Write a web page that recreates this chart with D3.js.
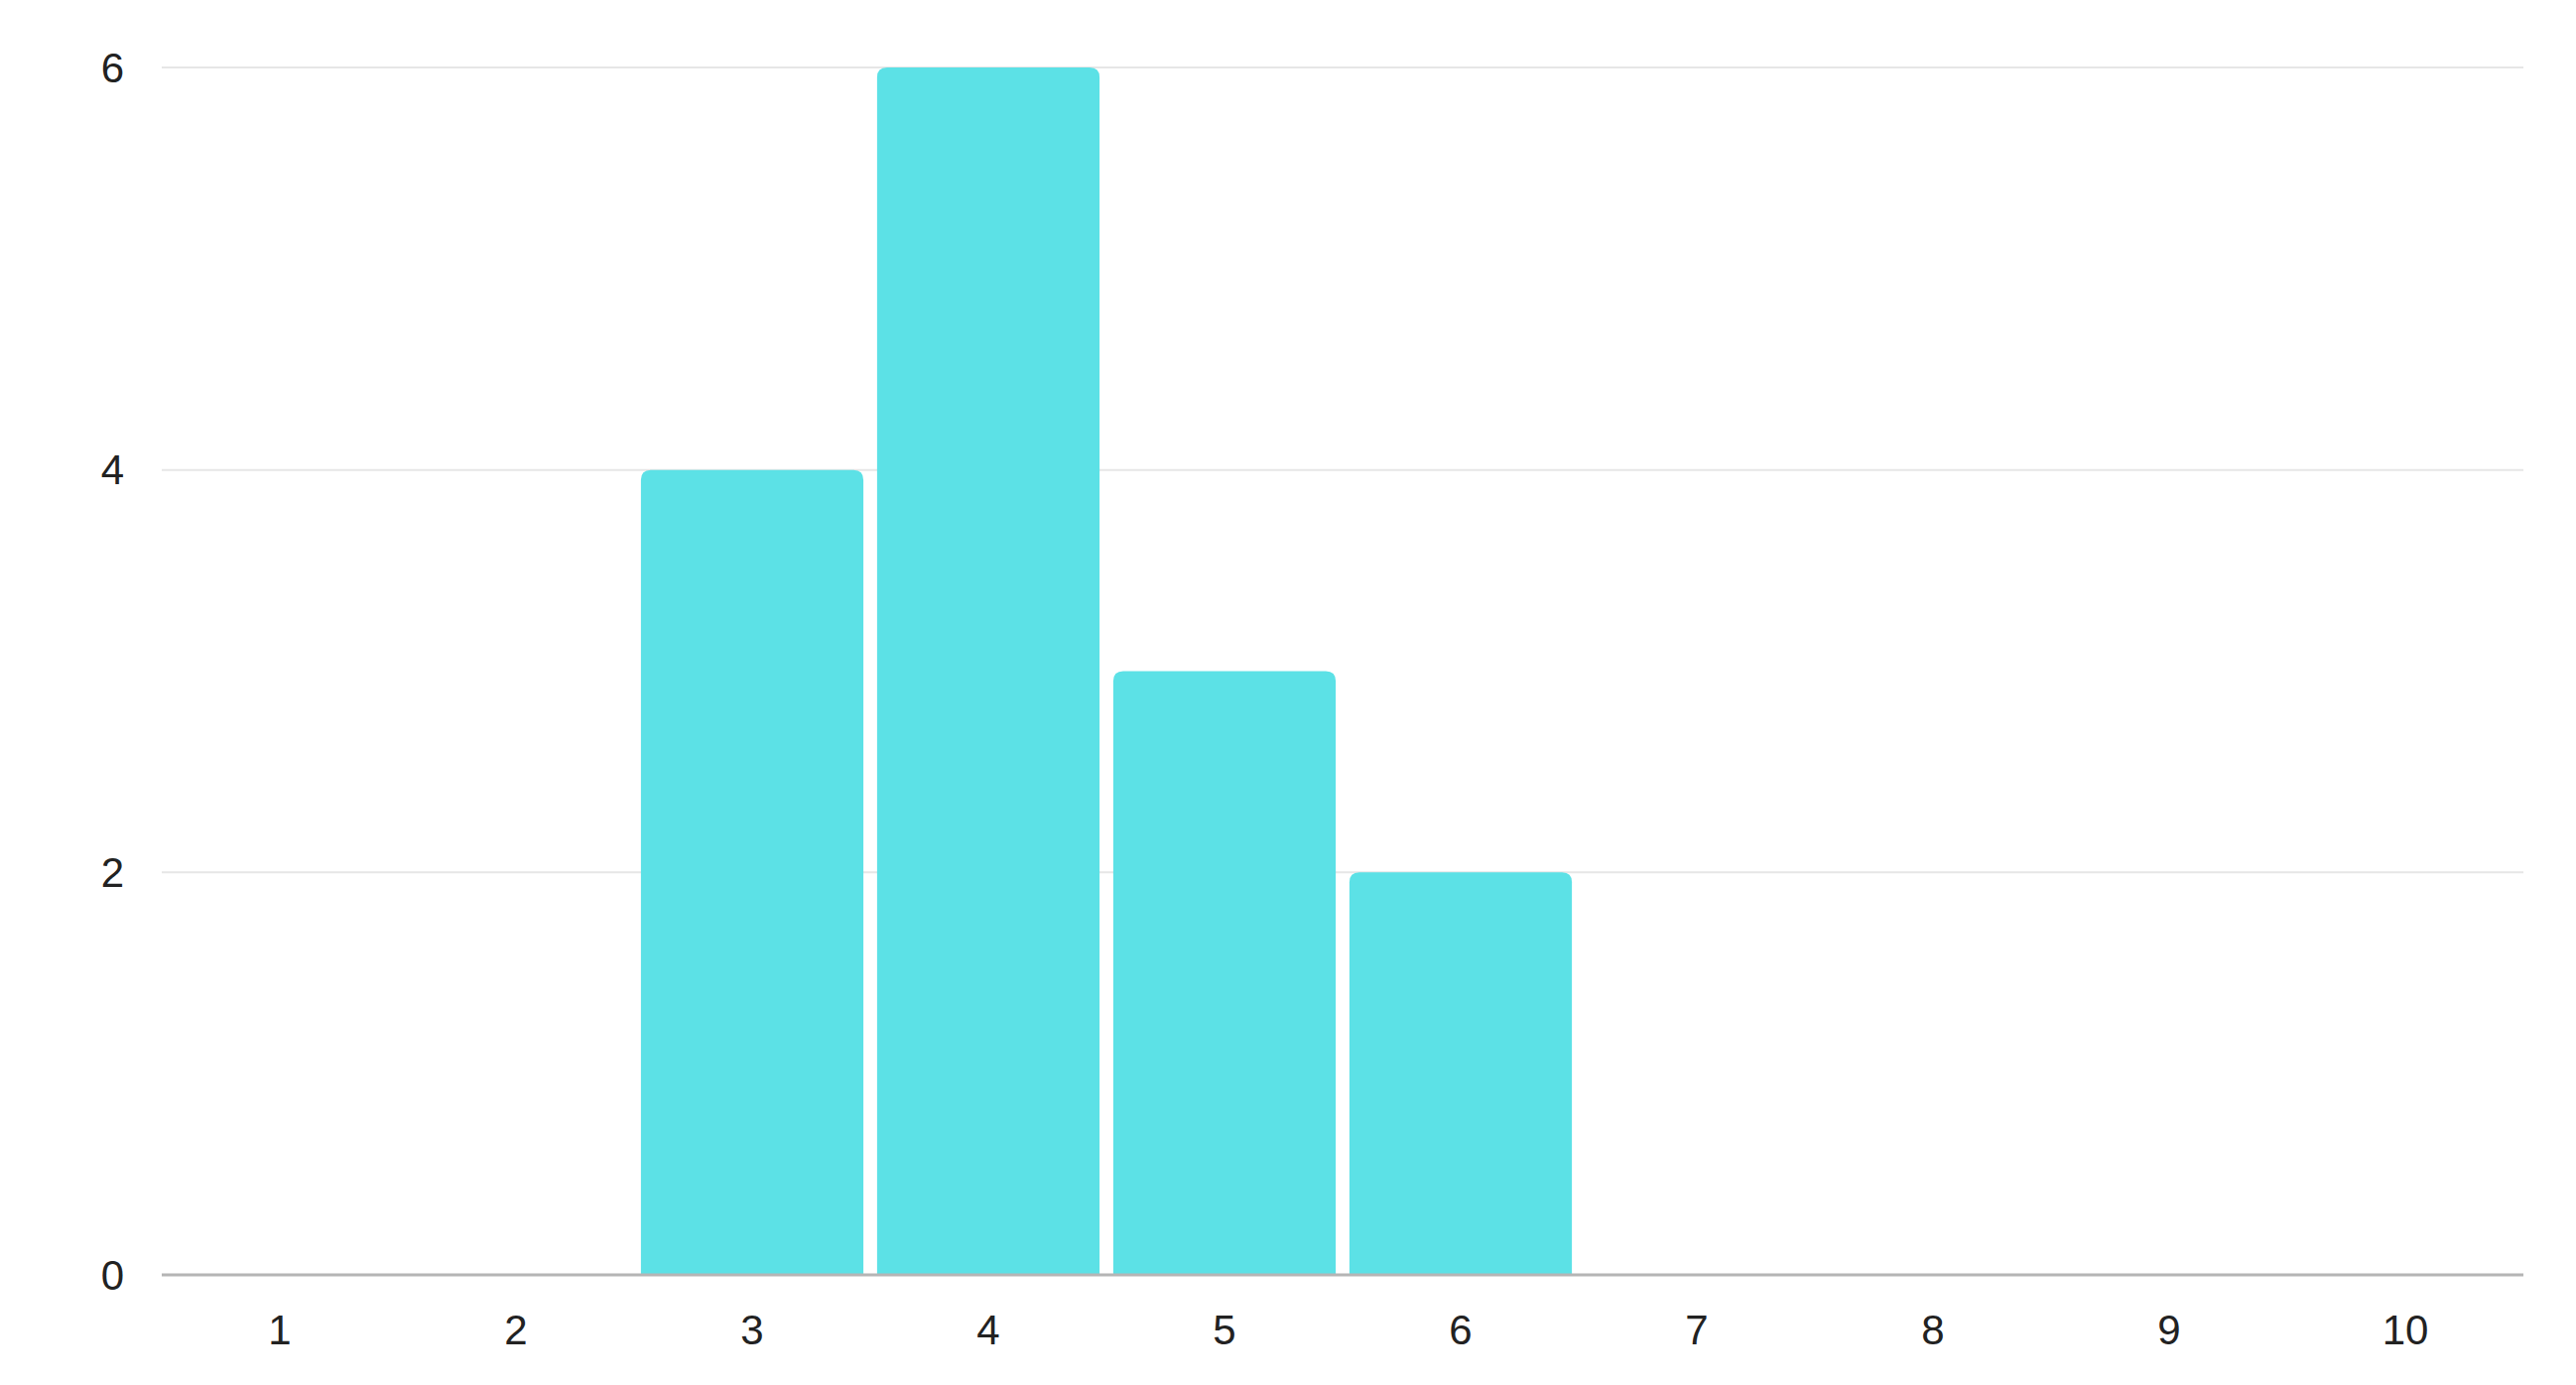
<!DOCTYPE html>
<html>
<head>
<meta charset="utf-8">
<script src="https://cdn.jsdelivr.net/npm/d3@7"></script>
<style>
  body { margin: 0; background: #fff; }
  text { font-family: "Liberation Sans", Arial, sans-serif; fill: #222; }
</style>
</head>
<body>
<svg id="chart" width="2596" height="1396"></svg>
<script>
// data
var categories = ["1", "2", "3", "4", "5", "6", "7", "8", "9", "10"];
var counts = [0, 0, 4, 6, 3, 2, 0, 0, 0, 0];
var yTicks = [0, 2, 4, 6];

var svg = d3.select("#chart");
var plotLeft = 163, plotRight = 2543, plotTop = 68, plotBottom = 1285;

var x = d3.scaleBand().domain(categories).range([plotLeft, plotRight]).paddingInner(0.058).paddingOuter(0.029);
var y = d3.scaleLinear().domain([0, 6]).range([plotBottom, plotTop]);

// gridlines
svg.selectAll("line.grid").data(yTicks.filter(function(d) { return d > 0; }))
  .enter().append("line")
  .attr("x1", plotLeft).attr("x2", plotRight)
  .attr("y1", function(d) { return y(d); }).attr("y2", function(d) { return y(d); })
  .attr("stroke", "#e6e6e6").attr("stroke-width", 2);

// bars with rounded top corners
var r = 10;
svg.selectAll("path.bar").data(counts.map(function(v, i) { return { c: categories[i], v: v }; }).filter(function(d) { return d.v > 0; }))
  .enter().append("path")
  .attr("fill", "#5ce1e6")
  .attr("d", function(d) {
    var x0 = x(d.c), w = x.bandwidth(), y0 = y(d.v), y1 = y(0);
    return "M" + x0 + "," + y1 + "V" + (y0 + r) + "Q" + x0 + "," + y0 + " " + (x0 + r) + "," + y0 +
      "H" + (x0 + w - r) + "Q" + (x0 + w) + "," + y0 + " " + (x0 + w) + "," + (y0 + r) + "V" + y1 + "Z";
  });

// baseline
svg.append("line").attr("x1", plotLeft).attr("x2", plotRight).attr("y1", plotBottom).attr("y2", plotBottom)
  .attr("stroke", "#b5b5b5").attr("stroke-width", 3);

// y labels
svg.selectAll("text.yl").data(yTicks).enter().append("text")
  .attr("x", 125).attr("y", function(d) { return y(d); }).attr("dy", "0.35em")
  .attr("text-anchor", "end").attr("font-size", 42).text(function(d) { return d; });

// x labels
svg.selectAll("text.xl").data(categories).enter().append("text")
  .attr("x", function(d) { return x(d) + x.bandwidth() / 2; }).attr("y", 1340).attr("dy", "0.35em")
  .attr("text-anchor", "middle").attr("font-size", 42).text(function(d) { return d; });
</script>
</body>
</html>
